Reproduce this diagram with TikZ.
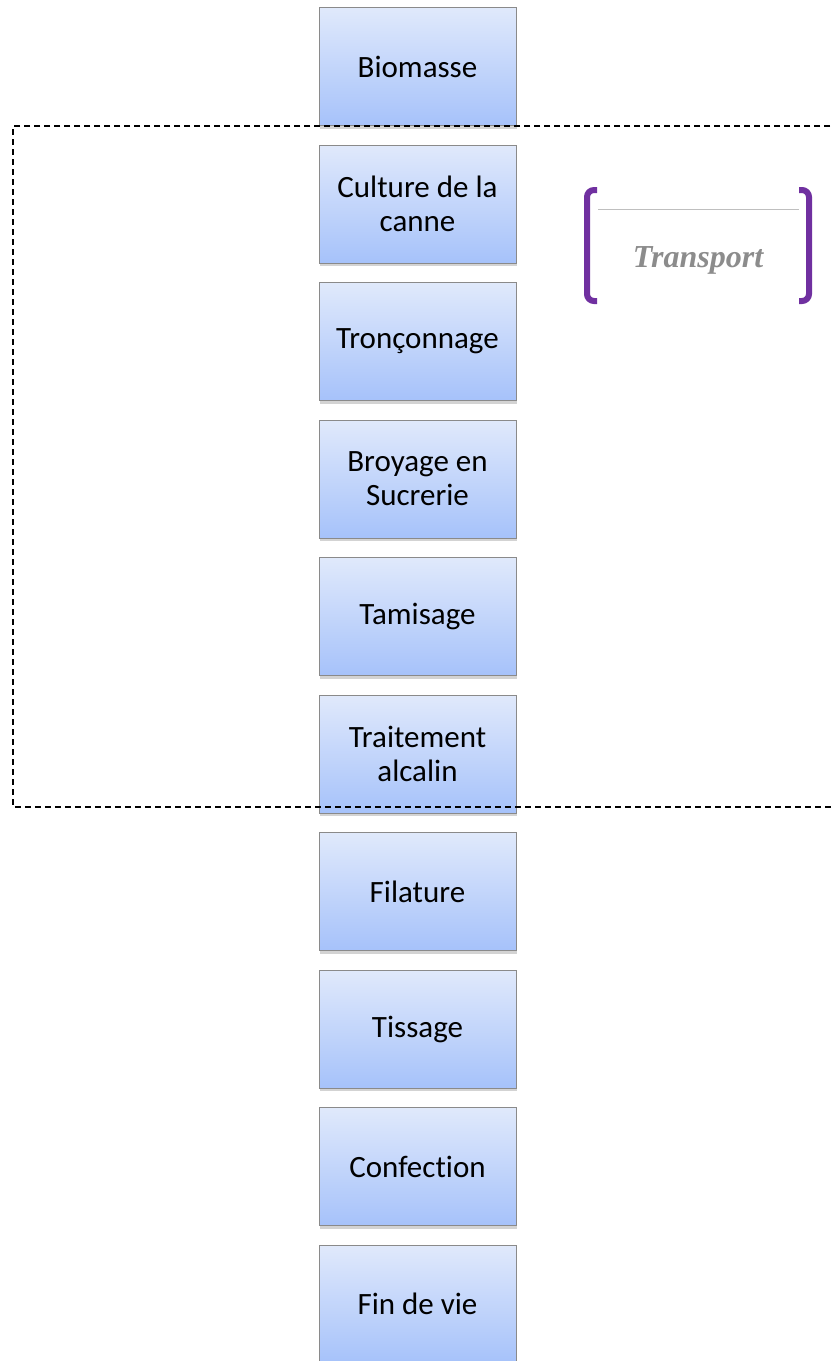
\documentclass[tikz,border=0pt]{standalone}
\usepackage{fontspec}
\setmainfont{Carlito}[Ligatures=NoCommon]
\newfontfamily\transpfont{Liberation Serif}
\usetikzlibrary{shadows}

\definecolor{boxtop}{HTML}{E0E9FB}
\definecolor{boxbot}{HTML}{A6C2FA}
\definecolor{boxline}{HTML}{8A8A8A}
\definecolor{bracketcol}{HTML}{7030A0}

\begin{document}
\begin{tikzpicture}[x=1pt,y=-1pt,
  etape/.style={rectangle, draw=boxline, line width=0.8pt,
    top color=boxtop, bottom color=boxbot,
    minimum width=197pt, minimum height=118pt, inner sep=2pt,
    align=center, font=\fontsize{31}{34}\selectfont,
    drop shadow={shadow xshift=1pt, shadow yshift=-3pt, opacity=0.35}}]

\useasboundingbox (0,0) rectangle (832,1361);
\clip (0,0) rectangle (832,1361);

% Process steps
\foreach \nom/\texte [count=\i from 0] in {
    bio/Biomasse,
    cult/{Culture de la\\canne},
    tronc/Tronçonnage,
    broy/{Broyage en\\Sucrerie},
    tam/Tamisage,
    trait/{Traitement\\alcalin},
    fil/Filature,
    tiss/Tissage,
    conf/Confection,
    fin/{Fin de vie}}
  \node[etape] (\nom) at (417.5, 66.5+137.5*\i) {\texte};

% Boundary of the system (dashed)
\draw[line width=1.5pt, dash pattern=on 6pt off 4pt]
  (840,126) -- (13,126) -- (13,807) -- (840,807);

% Transport bracket
\draw[bracketcol, line width=6pt, rounded corners=7pt]
  (597,190) -- (587,190) -- (587,301) -- (597,301);
\draw[bracketcol, line width=6pt, rounded corners=7pt]
  (799,190) -- (809,190) -- (809,301) -- (799,301);
\draw[gray!50, line width=0.8pt] (598,209) -- (799,209);
\node[font=\transpfont\fontsize{32}{36}\selectfont\bfseries\itshape, text=gray!90]
  (transp) at (698,260) {Transport};

\end{tikzpicture}
\end{document}
